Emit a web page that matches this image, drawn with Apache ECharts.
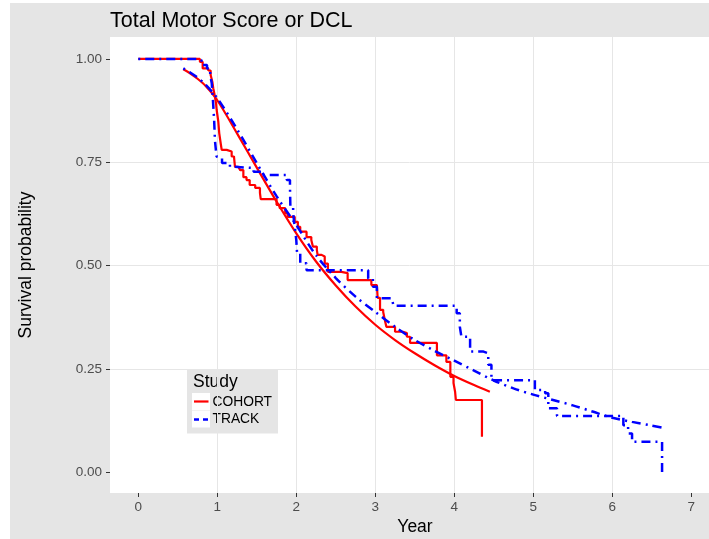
<!DOCTYPE html>
<html>
<head>
<meta charset="utf-8">
<script src="https://cdn.jsdelivr.net/npm/echarts@6/dist/echarts.min.js"></script>
<style>
  html, body { margin: 0; padding: 0; background: #fff; }
  #chart { width: 709px; height: 539px; }
</style>
</head>
<body>
<div id="chart"></div>
<script>
// Kaplan-Meier steps, COHORT (time in years, survival after the drop)
var cohortKmTime = [0, 0.78, 0.815, 0.886, 0.916, 0.937, 0.949, 0.962, 0.984, 0.992, 1.013, 1.025, 1.043, 1.056, 1.119,
  1.182, 1.211, 1.224, 1.266, 1.29, 1.33, 1.37, 1.41, 1.48, 1.54, 1.55, 1.75, 1.79, 1.86, 1.89, 1.98, 2.02, 2.05,
  2.13, 2.19, 2.21, 2.26, 2.27, 2.32, 2.36, 2.40, 2.57, 2.65, 2.95, 3.02, 3.03, 3.06, 3.10, 3.12, 3.14, 3.25, 3.35,
  3.40, 3.44, 3.78, 3.90, 3.95, 3.99, 4.01, 4.02, 4.35];
var cohortKmSurv = [1, 0.993, 0.977, 0.972, 0.961, 0.945, 0.929, 0.917, 0.893, 0.877, 0.848, 0.820, 0.796, 0.780, 0.776,
  0.764, 0.760, 0.739, 0.736, 0.731, 0.714, 0.707, 0.695, 0.688, 0.676, 0.661, 0.647, 0.639, 0.627, 0.618, 0.606, 0.594, 0.582,
  0.569, 0.562, 0.546, 0.538, 0.526, 0.522, 0.505, 0.485, 0.482, 0.465, 0.453, 0.449, 0.422, 0.393, 0.388, 0.369, 0.352, 0.340, 0.337,
  0.328, 0.313, 0.283, 0.267, 0.231, 0.216, 0.195, 0.175, 0.086];

// Kaplan-Meier steps, TRACK
var trackKmTime = [0, 0.76, 0.80, 0.87, 0.91, 0.93, 0.945, 0.96, 0.97, 0.99, 1.01, 1.06, 1.16, 1.22, 1.46, 1.56, 1.88,
  1.92, 1.925, 1.96, 1.98, 2.00, 2.01, 2.05, 2.13, 2.91, 2.97, 3.02, 3.21, 3.23, 4.03, 4.07, 4.09, 4.20, 4.37, 4.43, 4.47,
  5.02, 5.15, 5.19, 5.30, 6.14, 6.20, 6.25, 6.63];
var trackKmSurv = [1, 0.997, 0.985, 0.977, 0.961, 0.941, 0.90, 0.853, 0.804, 0.764, 0.760, 0.748, 0.739, 0.736, 0.727, 0.719, 0.707,
  0.691, 0.643, 0.627, 0.594, 0.562, 0.530, 0.506, 0.489, 0.469, 0.449, 0.421, 0.417, 0.403, 0.385, 0.352, 0.328, 0.292, 0.288, 0.260, 0.223,
  0.199, 0.191, 0.155, 0.136, 0.114, 0.094, 0.074, 0];

// fitted survival curves
var cohortFitTime = [0.57, 0.65, 0.75, 0.85, 1.0, 1.25, 1.5, 1.75, 2.0, 2.25, 2.5, 2.75, 3.0, 3.25, 3.5, 3.75, 4.0, 4.25, 4.45];
var cohortFitSurv = [0.975, 0.966, 0.952, 0.935, 0.900, 0.820, 0.737, 0.655, 0.578, 0.510, 0.452, 0.401, 0.357, 0.320, 0.288, 0.259, 0.233, 0.211, 0.195];
var trackFitTime = [0.57, 0.65, 0.75, 0.85, 1.0, 1.25, 1.5, 1.75, 2.0, 2.25, 2.5, 2.75, 3.0, 3.25, 3.5, 3.75, 4.0, 4.25, 4.5,
  4.75, 5.0, 5.25, 5.5, 5.75, 6.0, 6.25, 6.5, 6.63];
var trackFitSurv = [0.977, 0.968, 0.955, 0.938, 0.905, 0.830, 0.748, 0.668, 0.598, 0.525, 0.470, 0.425, 0.388, 0.352, 0.320, 0.294, 0.270, 0.246, 0.222,
  0.203, 0.188, 0.175, 0.162, 0.147, 0.132, 0.122, 0.113, 0.108];

var xTicks = [0, 1, 2, 3, 4, 5, 6, 7];
var yTicks = [0, 0.25, 0.5, 0.75, 1];

function pairs(xs, ys) {
  return xs.map(function (x, i) { return [x, ys[i]]; });
}

var FONT = 'Liberation Sans';
var RED = '#FF0000', BLUE = '#0000FF';
var DOTDASH = [2, 5, 9, 5];

var chart = echarts.init(document.getElementById('chart'), null, { renderer: 'canvas' });

chart.setOption({
  animation: false,
  backgroundColor: '#E5E5E5',
  grid: { left: 110, top: 37, right: 0, bottom: 46, show: true, backgroundColor: '#fff', borderWidth: 0 },
  xAxis: {
    type: 'value', min: -0.358, max: 7.224, minInterval: 1, maxInterval: 1,
    axisLine: { show: false, onZero: false },
    axisTick: { show: true, length: 4, lineStyle: { color: '#333' }, customValues: xTicks },
    axisLabel: { margin: 7, color: '#4D4D4D', fontSize: 13.5, fontFamily: FONT, customValues: xTicks },
    splitLine: { show: true, showMinLine: false, showMaxLine: false, lineStyle: { color: '#E6E6E6', width: 1 } }
  },
  yAxis: {
    type: 'value', min: -0.05, max: 1.053, minInterval: 0.25, maxInterval: 0.25,
    axisLine: { show: false, onZero: false },
    axisTick: { show: true, length: 4, lineStyle: { color: '#333' }, customValues: yTicks },
    axisLabel: { margin: 8, color: '#4D4D4D', fontSize: 13.5, fontFamily: FONT, customValues: yTicks,
      formatter: function (v) { return v.toFixed(2); } },
    splitLine: { show: true, showMinLine: false, showMaxLine: false, lineStyle: { color: '#E6E6E6', width: 1 } }
  },
  series: [
    { type: 'line', name: 'COHORT KM', step: 'end', symbol: 'none', data: pairs(cohortKmTime, cohortKmSurv),
      lineStyle: { color: RED, width: 2.2 } },
    { type: 'line', name: 'COHORT fit', smooth: 0.3, symbol: 'none', data: pairs(cohortFitTime, cohortFitSurv),
      lineStyle: { color: RED, width: 2.2 } },
    { type: 'line', name: 'TRACK KM', step: 'end', symbol: 'none', data: pairs(trackKmTime, trackKmSurv),
      lineStyle: { color: BLUE, width: 2.5, type: DOTDASH, cap: 'butt' } },
    { type: 'line', name: 'TRACK fit', smooth: 0.3, symbol: 'none', data: pairs(trackFitTime, trackFitSurv),
      lineStyle: { color: BLUE, width: 2.5, type: DOTDASH, cap: 'butt' } }
  ],
  graphic: [
    // white margin strips outside the grey plot background
    { type: 'rect', shape: { x: 0, y: 0, width: 10, height: 539 }, style: { fill: '#fff' }, silent: true },
    { type: 'rect', shape: { x: 0, y: 0, width: 709, height: 3 }, style: { fill: '#fff' }, silent: true },
    // titles
    { type: 'text', x: 110, y: 21, style: { text: 'Total Motor Score or DCL', font: '21.5px "Liberation Sans"', fill: '#000',
      textAlign: 'left', textVerticalAlign: 'middle' } },
    { type: 'text', x: 26, y: 265, rotation: Math.PI / 2, style: { text: 'Survival probability', font: '17.5px "Liberation Sans"',
      fill: '#000', textAlign: 'center', textVerticalAlign: 'middle' } },
    { type: 'text', x: 415, y: 527, style: { text: 'Year', font: '17.5px "Liberation Sans"', fill: '#000',
      textAlign: 'center', textVerticalAlign: 'middle' } },
    // legend
    { type: 'group', z: 100, children: [
      { type: 'rect', shape: { x: 187, y: 369.5, width: 91, height: 64 }, style: { fill: '#E5E5E5' } },
      { type: 'text', x: 193, y: 382, style: { text: 'Study', font: '17.5px "Liberation Sans"', fill: '#000',
        textAlign: 'left', textVerticalAlign: 'middle' } },
      { type: 'rect', shape: { x: 192, y: 393, width: 18, height: 17 }, style: { fill: '#fff' } },
      { type: 'rect', shape: { x: 192, y: 410.5, width: 18, height: 17 }, style: { fill: '#fff' } },
      { type: 'line', shape: { x1: 194, y1: 401.5, x2: 208.5, y2: 401.5 }, style: { stroke: RED, lineWidth: 2.2 } },
      { type: 'line', shape: { x1: 194, y1: 419.5, x2: 208.5, y2: 419.5 }, style: { stroke: BLUE, lineWidth: 2.5, lineDash: [5, 4] } },
      { type: 'text', x: 212.5, y: 402, style: { text: 'COHORT', font: '13.8px "Liberation Sans"', fill: '#000',
        textAlign: 'left', textVerticalAlign: 'middle' } },
      { type: 'text', x: 212.5, y: 419.5, style: { text: 'TRACK', font: '13.8px "Liberation Sans"', fill: '#000',
        textAlign: 'left', textVerticalAlign: 'middle' } }
    ] }
  ]
});
</script>
</body>
</html>
